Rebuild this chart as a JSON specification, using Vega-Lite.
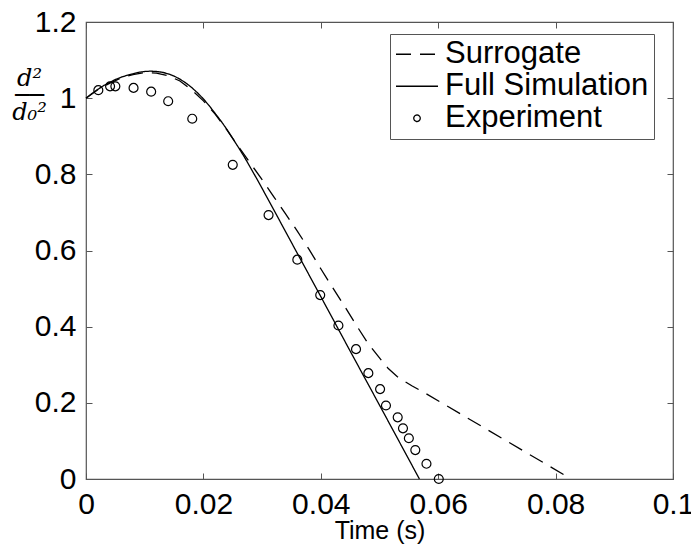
{
 "$schema": "https://vega.github.io/schema/vega-lite/v6.json",
 "width": 587,
 "height": 457,
 "autosize": "none",
 "padding": {"left": 86, "top": 22, "right": 18, "bottom": 67},
 "background": "white",
 "config": {
  "view": {"stroke": "#555", "strokeWidth": 1.2},
  "axis": {"grid": false, "domain": false, "tickSize": -6, "tickColor": "#555", "tickWidth": 1,
           "labelFont": "Liberation Sans", "labelFontSize": 30, "labelColor": "black", "labelPadding": 16,
           "labelFlush": false, "labelOverlap": false}
 },
 "datasets": {
  "sim": [
   {"t": 0, "d": 1.0, "series": "Full Simulation"},
   {"t": 0.001, "d": 1.012, "series": "Full Simulation"},
   {"t": 0.002, "d": 1.023, "series": "Full Simulation"},
   {"t": 0.003, "d": 1.033, "series": "Full Simulation"},
   {"t": 0.004, "d": 1.041, "series": "Full Simulation"},
   {"t": 0.005, "d": 1.049, "series": "Full Simulation"},
   {"t": 0.006, "d": 1.055, "series": "Full Simulation"},
   {"t": 0.007, "d": 1.060, "series": "Full Simulation"},
   {"t": 0.008, "d": 1.064, "series": "Full Simulation"},
   {"t": 0.009, "d": 1.068, "series": "Full Simulation"},
   {"t": 0.010, "d": 1.070, "series": "Full Simulation"},
   {"t": 0.011, "d": 1.071, "series": "Full Simulation"},
   {"t": 0.012, "d": 1.070, "series": "Full Simulation"},
   {"t": 0.013, "d": 1.068, "series": "Full Simulation"},
   {"t": 0.014, "d": 1.064, "series": "Full Simulation"},
   {"t": 0.015, "d": 1.058, "series": "Full Simulation"},
   {"t": 0.016, "d": 1.050, "series": "Full Simulation"},
   {"t": 0.017, "d": 1.040, "series": "Full Simulation"},
   {"t": 0.018, "d": 1.028, "series": "Full Simulation"},
   {"t": 0.019, "d": 1.014, "series": "Full Simulation"},
   {"t": 0.020, "d": 0.998, "series": "Full Simulation"},
   {"t": 0.021, "d": 0.980, "series": "Full Simulation"},
   {"t": 0.022, "d": 0.960, "series": "Full Simulation"},
   {"t": 0.023, "d": 0.940, "series": "Full Simulation"},
   {"t": 0.024, "d": 0.918, "series": "Full Simulation"},
   {"t": 0.025, "d": 0.894, "series": "Full Simulation"},
   {"t": 0.026, "d": 0.870, "series": "Full Simulation"},
   {"t": 0.027, "d": 0.845, "series": "Full Simulation"},
   {"t": 0.028, "d": 0.818, "series": "Full Simulation"},
   {"t": 0.029, "d": 0.791, "series": "Full Simulation"},
   {"t": 0.030, "d": 0.763, "series": "Full Simulation"},
   {"t": 0.031, "d": 0.735, "series": "Full Simulation"},
   {"t": 0.035, "d": 0.621, "series": "Full Simulation"},
   {"t": 0.040, "d": 0.479, "series": "Full Simulation"},
   {"t": 0.045, "d": 0.336, "series": "Full Simulation"},
   {"t": 0.050, "d": 0.194, "series": "Full Simulation"},
   {"t": 0.0568, "d": 0.0, "series": "Full Simulation"},
   {"t": 0, "d": 1.0, "series": "Surrogate"},
   {"t": 0.002, "d": 1.022, "series": "Surrogate"},
   {"t": 0.004, "d": 1.039, "series": "Surrogate"},
   {"t": 0.006, "d": 1.053, "series": "Surrogate"},
   {"t": 0.008, "d": 1.062, "series": "Surrogate"},
   {"t": 0.010, "d": 1.067, "series": "Surrogate"},
   {"t": 0.012, "d": 1.066, "series": "Surrogate"},
   {"t": 0.014, "d": 1.059, "series": "Surrogate"},
   {"t": 0.016, "d": 1.045, "series": "Surrogate"},
   {"t": 0.018, "d": 1.022, "series": "Surrogate"},
   {"t": 0.020, "d": 0.993, "series": "Surrogate"},
   {"t": 0.022, "d": 0.958, "series": "Surrogate"},
   {"t": 0.024, "d": 0.917, "series": "Surrogate"},
   {"t": 0.026, "d": 0.872, "series": "Surrogate"},
   {"t": 0.028, "d": 0.829, "series": "Surrogate"},
   {"t": 0.030, "d": 0.786, "series": "Surrogate"},
   {"t": 0.032, "d": 0.741, "series": "Surrogate"},
   {"t": 0.034, "d": 0.696, "series": "Surrogate"},
   {"t": 0.036, "d": 0.651, "series": "Surrogate"},
   {"t": 0.038, "d": 0.603, "series": "Surrogate"},
   {"t": 0.040, "d": 0.552, "series": "Surrogate"},
   {"t": 0.042, "d": 0.503, "series": "Surrogate"},
   {"t": 0.044, "d": 0.455, "series": "Surrogate"},
   {"t": 0.046, "d": 0.405, "series": "Surrogate"},
   {"t": 0.048, "d": 0.357, "series": "Surrogate"},
   {"t": 0.050, "d": 0.318, "series": "Surrogate"},
   {"t": 0.0515, "d": 0.290, "series": "Surrogate"},
   {"t": 0.053, "d": 0.269, "series": "Surrogate"},
   {"t": 0.054, "d": 0.259, "series": "Surrogate"},
   {"t": 0.0555, "d": 0.245, "series": "Surrogate"},
   {"t": 0.0575, "d": 0.228, "series": "Surrogate"},
   {"t": 0.082, "d": 0.006, "series": "Surrogate"}
  ],
  "exp": [
   {"t": 0.0021, "d": 1.021},
   {"t": 0.0041, "d": 1.031},
   {"t": 0.0050, "d": 1.031},
   {"t": 0.0081, "d": 1.027},
   {"t": 0.0111, "d": 1.017},
   {"t": 0.0140, "d": 0.992},
   {"t": 0.0181, "d": 0.946},
   {"t": 0.0250, "d": 0.825},
   {"t": 0.0311, "d": 0.693},
   {"t": 0.0360, "d": 0.576},
   {"t": 0.0399, "d": 0.483},
   {"t": 0.0430, "d": 0.403},
   {"t": 0.0460, "d": 0.341},
   {"t": 0.0481, "d": 0.278},
   {"t": 0.0501, "d": 0.236},
   {"t": 0.0511, "d": 0.193},
   {"t": 0.0531, "d": 0.162},
   {"t": 0.0540, "d": 0.133},
   {"t": 0.0550, "d": 0.107},
   {"t": 0.0561, "d": 0.076},
   {"t": 0.0580, "d": 0.040},
   {"t": 0.0601, "d": 0.0}
  ]
 },
 "layer": [
  {
   "data": {"name": "sim"},
   "mark": {"type": "line", "color": "black", "strokeWidth": 1.3},
   "encoding": {
    "x": {"field": "t", "type": "quantitative",
          "scale": {"domain": [0, 0.1], "nice": false, "zero": false},
          "axis": {"orient": "bottom", "values": [0, 0.02, 0.04, 0.06, 0.08, 0.1], "labelExpr": "'' + datum.value",
                   "title": "Time (s)", "titleFont": "Liberation Sans", "titleFontSize": 25, "titleFontWeight": "normal",
                   "titleColor": "black", "titleBaseline": "alphabetic", "titleY": 59}},
    "y": {"field": "d", "type": "quantitative",
          "scale": {"domain": [0, 1.2], "nice": false, "zero": false},
          "axis": {"orient": "left", "values": [0, 0.2, 0.4, 0.6, 0.8, 1, 1.2], "labelExpr": "'' + datum.value",
                   "title": ["d²", "──", "d₀²"], "titleAngle": 0, "titleX": -57, "titleY": 56,
                   "titleAlign": "center", "titleBaseline": "middle", "titleLineHeight": 17,
                   "titleFont": "DejaVu Serif", "titleFontStyle": "italic", "titleFontWeight": "normal",
                   "titleFontSize": 24, "titleColor": "black"}},
    "strokeDash": {"field": "series", "type": "nominal",
                   "scale": {"domain": ["Surrogate", "Full Simulation", "Experiment"], "range": [[15, 9], [1, 0], [1, 0]]},
                   "legend": {"title": null, "orient": "none", "legendX": 304, "legendY": 12,
                              "symbolType": "stroke", "symbolSize": 1764, "symbolStrokeWidth": 1.3,
                              "symbolStrokeColor": "black", "clipHeight": 30.5, "rowPadding": 0, "padding": 5,
                              "labelOffset": 6, "labelFont": "Liberation Sans", "labelFontSize": 31,
                              "labelColor": "black", "labelLimit": 400, "strokeColor": "#555", "fillColor": "white",
                              "encode": {"symbols": {"update": {
                                "shape": {"signal": "datum.value === 'Experiment' ? 'circle' : 'stroke'"},
                                "size": {"signal": "datum.value === 'Experiment' ? 42 : 1764"},
                                "fill": {"value": "transparent"},
                                "stroke": {"value": "black"},
                                "opacity": {"value": 1}}}}}}
   }
  },
  {
   "data": {"name": "exp"},
   "mark": {"type": "point", "shape": "circle", "filled": false, "color": "black", "size": 80, "strokeWidth": 1.2, "opacity": 1},
   "encoding": {
    "x": {"field": "t", "type": "quantitative",
          "axis": {"orient": "top", "labels": false, "title": null, "values": [0, 0.02, 0.04, 0.06, 0.08, 0.1]}},
    "y": {"field": "d", "type": "quantitative",
          "axis": {"orient": "right", "labels": false, "title": null, "values": [0, 0.2, 0.4, 0.6, 0.8, 1, 1.2]}}
   }
  }
 ],
 "resolve": {"axis": {"x": "independent", "y": "independent"}}
}
